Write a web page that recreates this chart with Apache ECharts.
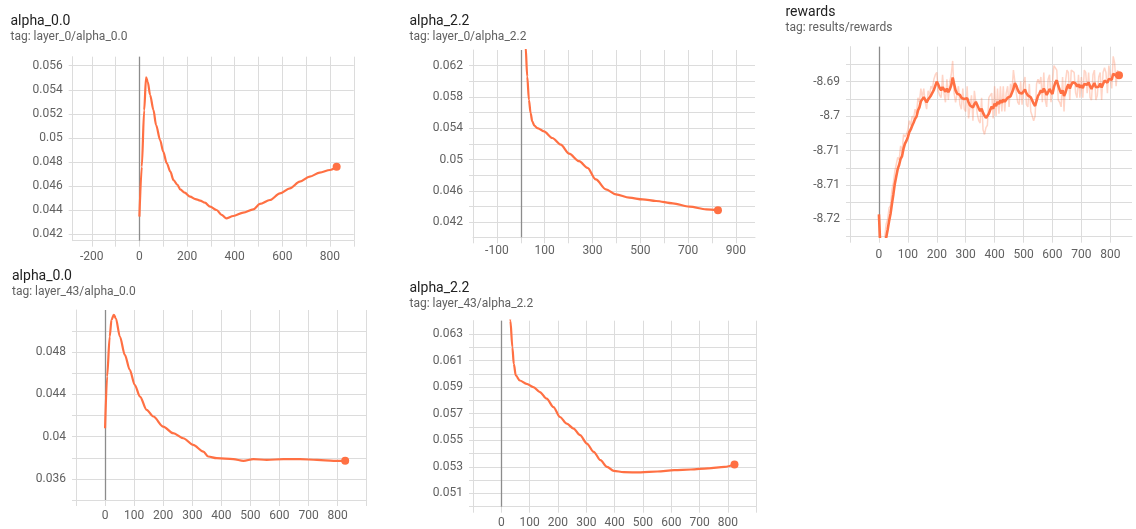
<!DOCTYPE html>
<html>
<head>
<meta charset="utf-8">
<script src="https://cdn.jsdelivr.net/npm/echarts@6/dist/echarts.min.js"></script>
<style>
  html, body { margin: 0; padding: 0; background: #fff; }
  #chart { width: 1136px; height: 529px; }
</style>
</head>
<body>
<div id="chart"></div>
<script>
// ---- layer_0 / alpha_0.0 ----
const l0a0Steps  = [0, 10, 20, 28, 35, 45, 59, 70, 87, 100, 115, 130, 143, 160, 171, 190, 213, 235, 255, 275, 297, 324, 345, 364, 394, 436, 478, 506, 548, 590, 632, 673, 715, 757, 800, 828];
const l0a0Values = [0.04347, 0.0476, 0.0523, 0.05503, 0.05467, 0.05357, 0.05232, 0.05108, 0.04983, 0.04886, 0.0479, 0.0472, 0.04651, 0.0461, 0.04574, 0.04546, 0.04513, 0.04493, 0.0448, 0.04463, 0.0443, 0.04402, 0.04361, 0.04333, 0.04352, 0.0438, 0.04407, 0.04452, 0.04485, 0.0454, 0.04582, 0.04637, 0.04679, 0.04712, 0.04734, 0.04762];
const l0a0XTicks  = [-200, -100, 0, 100, 200, 300, 400, 500, 600, 700, 800, 900];
const l0a0XLabels = [-200, 0, 200, 400, 600, 800];
const l0a0YTicks  = [0.042, 0.044, 0.046, 0.048, 0.05, 0.052, 0.054, 0.056];
const l0a0YLabels = [0.042, 0.044, 0.046, 0.048, 0.05, 0.052, 0.054, 0.056];

// ---- layer_0 / alpha_2.2 ----
const l0a2Steps  = [0, 10, 20, 27, 34, 41, 48, 57, 69, 97, 132, 167, 202, 244, 279, 314, 356, 398, 454, 510, 566, 636, 706, 776, 825];
const l0a2Values = [0.082, 0.071, 0.0645, 0.0606, 0.05764, 0.05595, 0.05489, 0.05434, 0.05404, 0.05362, 0.05277, 0.05193, 0.05078, 0.04981, 0.04896, 0.04748, 0.04621, 0.04558, 0.04515, 0.04494, 0.04473, 0.04443, 0.04401, 0.04367, 0.04355];
const l0a2XTicks  = [-200, -100, 0, 100, 200, 300, 400, 500, 600, 700, 800, 900];
const l0a2XLabels = [-100, 100, 300, 500, 700, 900];
const l0a2YTicks  = [0.042, 0.044, 0.046, 0.048, 0.05, 0.052, 0.054, 0.056, 0.058, 0.06, 0.062];
const l0a2YLabels = [0.042, 0.046, 0.05, 0.054, 0.058, 0.062];

// ---- results / rewards ----
const rewardSteps = [0,5,10,15,20,25,30,35,40,45,50,55,60,65,70,75,80,85,90,95,100,105,110,115,120,125,130,135,140,145,150,155,160,165,170,175,180,185,190,195,200,205,210,215,220,225,230,235,240,245,250,255,260,265,270,275,280,285,290,295,300,305,310,315,320,325,330,335,340,345,350,355,360,365,370,375,380,385,390,395,400,405,410,415,420,425,430,435,440,445,450,455,460,465,470,475,480,485,490,495,500,505,510,515,520,525,530,535,540,545,550,555,560,565,570,575,580,585,590,595,600,605,610,615,620,625,630,635,640,645,650,655,660,665,670,675,680,685,690,695,700,705,710,715,720,725,730,735,740,745,750,755,760,765,770,775,780,785,790,795,800,805,810,815,820,825,830];
const rewardSmoothed = [-8.7189,-8.726,-8.728,-8.7275,-8.726,-8.724,-8.7223,-8.7204,-8.7188,-8.7166,-8.7145,-8.7122,-8.7106,-8.709,-8.7081,-8.7068,-8.7062,-8.7046,-8.7035,-8.7029,-8.7021,-8.701,-8.7004,-8.6996,-8.6989,-8.6981,-8.6976,-8.6963,-8.6956,-8.6943,-8.694,-8.6934,-8.6937,-8.6945,-8.6939,-8.6936,-8.693,-8.6926,-8.6918,-8.6909,-8.69,-8.6906,-8.6914,-8.6919,-8.6912,-8.6916,-8.6922,-8.6915,-8.6923,-8.6917,-8.6908,-8.6891,-8.6905,-8.6919,-8.6926,-8.6922,-8.6929,-8.6935,-8.6931,-8.6938,-8.6942,-8.6936,-8.6945,-8.6952,-8.6948,-8.6956,-8.6949,-8.6944,-8.6951,-8.6958,-8.6964,-8.6959,-8.6968,-8.6974,-8.6979,-8.6981,-8.697,-8.6961,-8.6954,-8.6959,-8.6948,-8.6953,-8.6944,-8.6949,-8.6941,-8.6946,-8.6939,-8.6944,-8.694,-8.6935,-8.6939,-8.6932,-8.693,-8.6916,-8.6903,-8.6909,-8.6918,-8.6924,-8.692,-8.6926,-8.6922,-8.6917,-8.6925,-8.693,-8.6926,-8.6934,-8.6941,-8.6948,-8.6953,-8.6942,-8.6931,-8.6926,-8.6919,-8.6924,-8.6915,-8.6921,-8.6929,-8.6923,-8.6916,-8.6922,-8.6927,-8.6912,-8.6902,-8.6897,-8.6909,-8.6918,-8.6926,-8.6919,-8.6931,-8.6924,-8.6913,-8.6906,-8.6915,-8.6907,-8.6901,-8.6897,-8.6904,-8.6911,-8.6906,-8.6913,-8.6908,-8.6914,-8.6905,-8.6901,-8.6907,-8.6902,-8.691,-8.6916,-8.6909,-8.6903,-8.6912,-8.6915,-8.6911,-8.6904,-8.6913,-8.6905,-8.6898,-8.6895,-8.6902,-8.6894,-8.6891,-8.6896,-8.6883,-8.688,-8.6887,-8.6885,-8.6886];
const rewardRaw = [-8.7189,-8.729,-8.73,-8.726,-8.724,-8.721,-8.72,-8.7175,-8.717,-8.7135,-8.712,-8.7095,-8.7095,-8.7065,-8.707,-8.704,-8.7055,-8.7015,-8.702,-8.7015,-8.7005,-8.6985,-8.6995,-8.6975,-8.698,-8.696,-8.697,-8.6935,-8.6945,-8.6915,-8.6935,-8.6915,-8.6945,-8.696,-8.692,-8.693,-8.691,-8.6915,-8.6895,-8.6885,-8.688,-8.692,-8.693,-8.6935,-8.6885,-8.6925,-8.6945,-8.6895,-8.694,-8.69,-8.6885,-8.6855,-8.6925,-8.6945,-8.6945,-8.691,-8.695,-8.696,-8.6915,-8.696,-8.6965,-8.691,-8.698,-8.698,-8.693,-8.6985,-8.692,-8.692,-8.697,-8.6985,-8.699,-8.6935,-8.7005,-8.7015,-8.7,-8.6995,-8.6935,-8.693,-8.6925,-8.698,-8.691,-8.6975,-8.6915,-8.697,-8.691,-8.6965,-8.691,-8.6965,-8.6925,-8.691,-8.6955,-8.6905,-8.692,-8.6875,-8.6875,-8.6925,-8.6945,-8.695,-8.69,-8.695,-8.6905,-8.689,-8.695,-8.6955,-8.6905,-8.6965,-8.6975,-8.6985,-8.6975,-8.6905,-8.6895,-8.6905,-8.689,-8.6945,-8.688,-8.694,-8.6955,-8.6895,-8.6885,-8.6945,-8.6945,-8.6865,-8.687,-8.6875,-8.694,-8.6945,-8.6955,-8.689,-8.6965,-8.69,-8.6875,-8.688,-8.694,-8.6875,-8.6875,-8.688,-8.6925,-8.6935,-8.6885,-8.6935,-8.689,-8.6935,-8.6875,-8.688,-8.6925,-8.688,-8.6935,-8.694,-8.6885,-8.6875,-8.694,-8.693,-8.689,-8.688,-8.694,-8.688,-8.687,-8.688,-8.6925,-8.6865,-8.6865,-8.6915,-8.6845,-8.686,-8.691,-8.6875,-8.6886];
const rewardXTicks  = [-100, 0, 100, 200, 300, 400, 500, 600, 700, 800];
const rewardXLabels = [0, 100, 200, 300, 400, 500, 600, 700, 800];
const rewardYTicks  = [-8.72375, -8.72, -8.71625, -8.7125, -8.70875, -8.705, -8.70125, -8.6975, -8.69375, -8.69, -8.68625];
const rewardYLabels = [-8.72, -8.7125, -8.705, -8.6975, -8.69];
const rewardYLabelText = ['-8.72', '-8.71', '-8.71', '-8.7', '-8.69'];

// ---- layer_43 / alpha_0.0 ----
const l43a0Steps  = [0, 7, 16, 22, 30, 37, 51, 68, 85, 102, 120, 143, 166, 200, 234, 269, 303, 338, 355, 384, 441, 476, 510, 556, 614, 671, 729, 786, 826];
const l43a0Values = [0.0408, 0.0457, 0.04948, 0.05106, 0.05154, 0.05122, 0.04948, 0.04775, 0.04633, 0.04491, 0.0438, 0.04254, 0.04191, 0.04096, 0.04033, 0.03985, 0.03922, 0.03859, 0.03812, 0.03796, 0.03787, 0.03771, 0.03787, 0.0378, 0.03787, 0.03787, 0.0378, 0.03771, 0.03771];
const l43a0XTicks  = [-100, 0, 100, 200, 300, 400, 500, 600, 700, 800, 900];
const l43a0XLabels = [0, 100, 200, 300, 400, 500, 600, 700, 800];
const l43a0YTicks  = [0.034, 0.036, 0.038, 0.04, 0.042, 0.044, 0.046, 0.048, 0.05];
const l43a0YLabels = [0.036, 0.04, 0.044, 0.048];

// ---- layer_43 / alpha_2.2 ----
const l43a2Steps  = [0, 10, 20, 32, 39, 44, 51, 65, 89, 113, 136, 160, 184, 207, 231, 255, 278, 302, 326, 350, 373, 397, 432, 492, 551, 610, 669, 729, 788, 823];
const l43a2Values = [0.075, 0.07, 0.0665, 0.064, 0.062, 0.06075, 0.05988, 0.0595, 0.05925, 0.059, 0.05863, 0.05813, 0.0575, 0.05675, 0.05625, 0.05588, 0.05538, 0.05475, 0.05413, 0.0535, 0.053, 0.0527, 0.0526, 0.05258, 0.05265, 0.05275, 0.0528, 0.05288, 0.053, 0.05318];
const l43a2XTicks  = [-100, 0, 100, 200, 300, 400, 500, 600, 700, 800, 900];
const l43a2XLabels = [0, 100, 200, 300, 400, 500, 600, 700, 800];
const l43a2YTicks  = [0.05, 0.051, 0.052, 0.053, 0.054, 0.055, 0.056, 0.057, 0.058, 0.059, 0.06, 0.061, 0.062, 0.063];
const l43a2YLabels = [0.051, 0.053, 0.055, 0.057, 0.059, 0.061, 0.063];

const ORANGE = '#ff7043';
const GRID_COLOR = '#dcdcdc';
const TEXT_COLOR = '#616161';
const FONT = 'Roboto, "Noto Sans", sans-serif';

const zip = (xs, ys) => xs.map((x, i) => [x, ys[i]]);
const numText = v => String(Number(v.toFixed(5)));

const panels = [
  {
    title: 'alpha_0.0', tag: 'tag: layer_0/alpha_0.0', titleLeft: 10.5, titleTop: 14,
    grid: { left: 72.7, top: 56.7, width: 281.1, height: 184 },
    x: { min: -280, max: 900, ticks: l0a0XTicks, labels: l0a0XLabels, margin: 10 },
    y: { min: 0.04147, max: 0.05675, ticks: l0a0YTicks, labels: l0a0YLabels, fmt: numText },
    lines: [{ data: zip(l0a0Steps, l0a0Values) }]
  },
  {
    title: 'alpha_2.2', tag: 'tag: layer_0/alpha_2.2', titleLeft: 409.5, titleTop: 14,
    grid: { left: 473, top: 50, width: 282, height: 187.3 },
    x: { min: -200, max: 980, ticks: l0a2XTicks, labels: l0a2XLabels, margin: 8 },
    y: { min: 0.0401, max: 0.064, ticks: l0a2YTicks, labels: l0a2YLabels, fmt: numText },
    lines: [{ data: zip(l0a2Steps, l0a2Values) }]
  },
  {
    title: 'rewards', tag: 'tag: results/rewards', titleLeft: 785.5, titleTop: 5,
    grid: { left: 850, top: 46.7, width: 282, height: 190 },
    x: { min: -100, max: 875, ticks: rewardXTicks, labels: rewardXLabels, margin: 12 },
    y: {
      min: -8.72375, max: -8.6824, ticks: rewardYTicks, labels: rewardYLabels,
      fmt: v => {
        const i = rewardYLabels.findIndex(l => Math.abs(l - v) < 1e-7);
        return i >= 0 ? rewardYLabelText[i] : '';
      }
    },
    lines: [
      { data: zip(rewardSteps, rewardRaw), raw: true },
      { data: zip(rewardSteps, rewardSmoothed), jagged: true }
    ]
  },
  {
    title: 'alpha_0.0', tag: 'tag: layer_43/alpha_0.0', titleLeft: 12, titleTop: 269,
    grid: { left: 76, top: 310, width: 290.7, height: 190 },
    x: { min: -100, max: 900, ticks: l43a0XTicks, labels: l43a0XLabels, margin: 10 },
    y: { min: 0.034, max: 0.052, ticks: l43a0YTicks, labels: l43a0YLabels, fmt: numText },
    lines: [{ data: zip(l43a0Steps, l43a0Values) }]
  },
  {
    title: 'alpha_2.2', tag: 'tag: layer_43/alpha_2.2', titleLeft: 409.5, titleTop: 281,
    grid: { left: 473, top: 320.7, width: 283.3, height: 186 },
    x: { min: -100, max: 900, ticks: l43a2XTicks, labels: l43a2XLabels, margin: 10 },
    y: { min: 0.05, max: 0.064, ticks: l43a2YTicks, labels: l43a2YLabels, fmt: numText },
    lines: [{ data: zip(l43a2Steps, l43a2Values) }]
  }
];

const option = {
  backgroundColor: '#fff',
  animation: false,
  title: [],
  grid: [],
  xAxis: [],
  yAxis: [],
  series: []
};

panels.forEach((p, i) => {
  option.title.push({
    text: p.title,
    subtext: p.tag,
    left: p.titleLeft,
    top: p.titleTop,
    padding: 0,
    itemGap: 3,
    textStyle: { fontFamily: FONT, fontSize: 14, fontWeight: 'normal', color: '#212121' },
    subtextStyle: { fontFamily: FONT, fontSize: 12, color: TEXT_COLOR }
  });
  option.grid.push(Object.assign({ containLabel: false }, p.grid));
  option.xAxis.push({
    type: 'value', gridIndex: i, min: p.x.min, max: p.x.max,
    axisLine: { show: true, onZero: false, lineStyle: { color: GRID_COLOR, width: 1 } },
    axisTick: { show: true, length: 6, customValues: p.x.ticks, lineStyle: { color: GRID_COLOR } },
    splitLine: { show: true, lineStyle: { color: GRID_COLOR, width: 1 } },
    axisLabel: {
      customValues: p.x.labels, margin: p.x.margin,
      color: TEXT_COLOR, fontFamily: FONT, fontSize: 12,
      formatter: v => String(v)
    }
  });
  option.yAxis.push({
    type: 'value', gridIndex: i, min: p.y.min, max: p.y.max,
    axisLine: { show: true, onZero: false, lineStyle: { color: GRID_COLOR, width: 1 } },
    axisTick: { show: true, length: 4, customValues: p.y.ticks, lineStyle: { color: GRID_COLOR } },
    splitLine: { show: true, lineStyle: { color: GRID_COLOR, width: 1 } },
    axisLabel: {
      customValues: p.y.labels, margin: 10,
      color: TEXT_COLOR, fontFamily: FONT, fontSize: 12,
      formatter: p.y.fmt
    }
  });

  p.lines.forEach((ln, k) => {
    const s = {
      type: 'line', xAxisIndex: i, yAxisIndex: i,
      data: ln.data, symbol: 'none', clip: true,
      smooth: ln.raw || ln.jagged ? false : 0.3,
      smoothMonotone: 'x',
      lineStyle: ln.raw
        ? { color: ORANGE, width: 1.5, opacity: 0.3 }
        : { color: ORANGE, width: ln.jagged ? 2.6 : 2.2 },
      itemStyle: { color: ORANGE },
      z: 3
    };
    if (k === 0) {
      // darker vertical rule at step 0
      s.markLine = {
        silent: true, symbol: ['none', 'none'], label: { show: false },
        lineStyle: { color: '#8c8c8c', width: 1.3, type: 'solid' },
        data: [{ xAxis: 0 }],
        z: 2
      };
    }
    option.series.push(s);
  });

  // end-point dot on the last value of the main line
  const main = p.lines[p.lines.length - 1].data;
  option.series.push({
    type: 'scatter', xAxisIndex: i, yAxisIndex: i,
    data: [main[main.length - 1]],
    symbol: 'circle', symbolSize: 8,
    itemStyle: { color: ORANGE, opacity: 1 },
    z: 4
  });
});

const chart = echarts.init(document.getElementById('chart'), null, { renderer: 'canvas' });
chart.setOption(option);
</script>
</body>
</html>
